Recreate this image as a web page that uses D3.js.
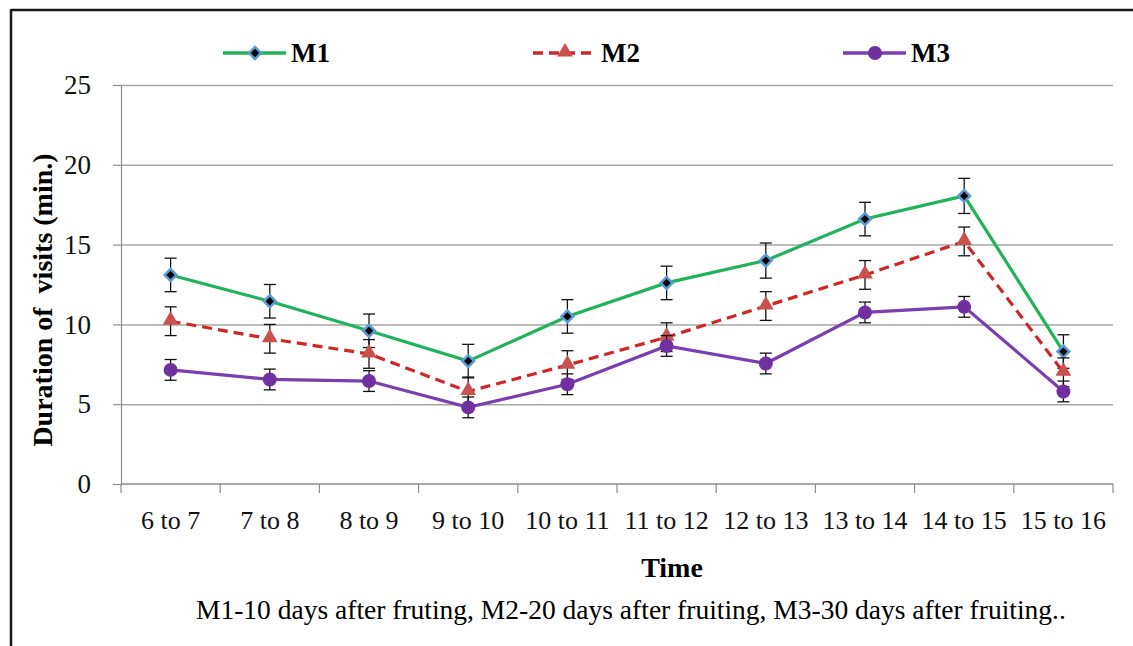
<!DOCTYPE html>
<html>
<head>
<meta charset="utf-8">
<script src="https://cdn.jsdelivr.net/npm/d3@7"></script>
<style>
  body { margin: 0; background: #fff; }
  svg text { font-family: "Liberation Serif", "Times New Roman", serif; }
</style>
</head>
<body>
<svg id="chart" width="1133" height="646"></svg>
<script>
// data
var categories = ["6 to 7", "7 to 8", "8 to 9", "9 to 10", "10 to 11", "11 to 12",
                  "12 to 13", "13 to 14", "14 to 15", "15 to 16"];
var m1 = [13.1, 11.45, 9.6, 7.7, 10.5, 12.6, 14.0, 16.6, 18.05, 8.3];
var m2 = [10.2, 9.1, 8.15, 5.8, 7.45, 9.2, 11.15, 13.1, 15.2, 7.0];
var m3 = [7.15, 6.55, 6.45, 4.8, 6.25, 8.65, 7.55, 10.75, 11.1, 5.8];
var m1Err = [1.05, 1.05, 1.05, 1.05, 1.05, 1.05, 1.1, 1.05, 1.1, 1.05];
var m2Err = [0.9, 0.9, 0.9, 0.9, 0.9, 0.9, 0.9, 0.9, 0.9, 0.9];
var m3Err = [0.65, 0.65, 0.65, 0.65, 0.65, 0.65, 0.65, 0.65, 0.65, 0.65];
var yTicks = [0, 5, 10, 15, 20, 25];

var W = 1133, H = 646;
var plotL = 121, plotR = 1113, plotT = 85, plotB = 484;

var svg = d3.select("#chart");

// frame (top and left edges only)
svg.append("line").attr("x1", 11).attr("y1", 10).attr("x2", W).attr("y2", 10)
   .attr("stroke", "#1a1a1a").attr("stroke-width", 2.5);
svg.append("line").attr("x1", 11).attr("y1", 9).attr("x2", 11).attr("y2", H)
   .attr("stroke", "#1a1a1a").attr("stroke-width", 2.5);

var x = d3.scaleBand().domain(categories).range([plotL, plotR]).paddingInner(0).paddingOuter(0);
var y = d3.scaleLinear().domain([0, 25]).range([plotB, plotT]);
var cx = function(i){ return x(categories[i]) + x.bandwidth() / 2; };

// gridlines
svg.append("g")
   .attr("transform", "translate(" + plotL + ",0)")
   .call(d3.axisLeft(y).tickValues(yTicks.slice(1)).tickSize(-(plotR - plotL)).tickFormat(""))
   .call(function(g){
       g.select(".domain").remove();
       g.selectAll("line").attr("stroke", "#a6a6a6").attr("stroke-width", 1.5);
   });

// y axis
svg.append("g")
   .attr("transform", "translate(" + plotL + ",0)")
   .call(d3.axisLeft(y).tickValues(yTicks).tickSize(8).tickPadding(22).tickSizeOuter(0))
   .call(function(g){
       g.attr("font-family", null);
       g.select(".domain").attr("stroke", "#8c8c8c").attr("stroke-width", 1.2);
       g.selectAll("line").attr("stroke", "#8c8c8c").attr("stroke-width", 1.2);
       g.selectAll("text").attr("font-size", 27).attr("fill", "#111");
   });

// x axis line with ticks at category boundaries
var xg = svg.append("g");
xg.append("line").attr("x1", plotL).attr("x2", plotR).attr("y1", y(0)).attr("y2", y(0))
  .attr("stroke", "#8c8c8c").attr("stroke-width", 1.5);
var bounds = categories.map(function(c){ return x(c); }).concat([plotR]);
xg.selectAll("line.tk").data(bounds).enter().append("line").attr("class", "tk")
  .attr("x1", function(d){ return d; }).attr("x2", function(d){ return d; })
  .attr("y1", y(0)).attr("y2", y(0) + 9)
  .attr("stroke", "#8c8c8c").attr("stroke-width", 1.2);
xg.selectAll("text").data(categories).enter().append("text")
  .attr("x", function(d, i){ return cx(i); })
  .attr("y", 529)
  .attr("text-anchor", "middle")
  .attr("font-size", 26)
  .attr("fill", "#111")
  .text(function(d){ return d; });

// axis titles
svg.append("text")
   .attr("transform", "translate(52,300) rotate(-90)")
   .attr("text-anchor", "middle")
   .attr("font-size", 28).attr("font-weight", "bold")
   .attr("xml:space", "preserve")
   .style("white-space", "pre")
   .text("Duration of  visits (min.)");
svg.append("text")
   .attr("x", 672).attr("y", 577)
   .attr("text-anchor", "middle")
   .attr("font-size", 28).attr("font-weight", "bold")
   .text("Time");
svg.append("text")
   .attr("x", 196).attr("y", 619)
   .attr("font-size", 27.5)
   .text("M1-10 days after fruting, M2-20 days after fruiting, M3-30 days after fruiting..");

// series
var series = [
  {name: "M1", vals: m1, err: m1Err, color: "#21b35b", dash: null, marker: "diamond", lx: 223},
  {name: "M2", vals: m2, err: m2Err, color: "#cf2626", dash: "10,6", marker: "triangle", lx: 533},
  {name: "M3", vals: m3, err: m3Err, color: "#7a3fae", dash: null, marker: "circle", lx: 843}
];

var line = d3.line().x(function(d, i){ return cx(i); }).y(function(d){ return y(d); });

function drawMarker(g, s, px, py){
    if (s.marker === "diamond"){
        g.append("path").attr("d", d3.symbol().type(d3.symbolSquare).size(70)())
         .attr("transform", "translate(" + px + "," + py + ") rotate(45)")
         .attr("fill", "#000").attr("stroke", "#5b9bd5").attr("stroke-width", 2.5);
    } else if (s.marker === "triangle"){
        g.append("path").attr("d", d3.symbol().type(d3.symbolTriangle).size(75)())
         .attr("transform", "translate(" + px + "," + (py - 1) + ")")
         .attr("fill", "#c9514e").attr("stroke", "#c9514e").attr("stroke-width", 1.5);
    } else {
        g.append("circle").attr("cx", px).attr("cy", py).attr("r", 7)
         .attr("fill", "#7030a0");
    }
}

series.forEach(function(s){
    var g = svg.append("g");
    // error bars
    s.vals.forEach(function(v, i){
        var px = cx(i), hi = y(v + s.err[i]), lo = y(v - s.err[i]);
        g.append("line").attr("x1", px).attr("x2", px).attr("y1", hi).attr("y2", lo)
         .attr("stroke", "#111").attr("stroke-width", 1.3);
        g.append("line").attr("x1", px - 6).attr("x2", px + 6).attr("y1", hi).attr("y2", hi)
         .attr("stroke", "#111").attr("stroke-width", 1.3);
        g.append("line").attr("x1", px - 6).attr("x2", px + 6).attr("y1", lo).attr("y2", lo)
         .attr("stroke", "#111").attr("stroke-width", 1.3);
    });
    g.append("path").datum(s.vals).attr("d", line)
     .attr("fill", "none").attr("stroke", s.color).attr("stroke-width", 3.2)
     .attr("stroke-dasharray", s.dash);
    s.vals.forEach(function(v, i){ drawMarker(g, s, cx(i), y(v)); });

    // legend
    var ly = 53;
    g.append("line").attr("x1", s.lx).attr("x2", s.lx + 63).attr("y1", ly).attr("y2", ly)
     .attr("stroke", s.color).attr("stroke-width", 3.6).attr("stroke-dasharray", s.dash);
    drawMarker(g, s, s.lx + 32, ly);
    g.append("text").attr("x", s.lx + 68).attr("y", ly + 9)
     .attr("font-size", 27).attr("font-weight", "bold").text(s.name);
});
</script>
</body>
</html>
